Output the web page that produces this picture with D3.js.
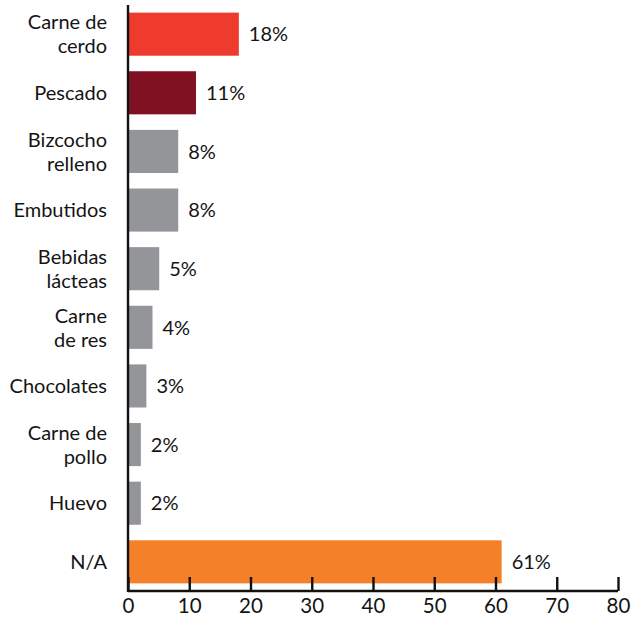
<!DOCTYPE html>
<html><head><meta charset="utf-8">
<script src="https://cdn.jsdelivr.net/npm/d3@7"></script>
<style>
html,body{margin:0;padding:0;background:#fff;}
text{font-family:"Lato","Open Sans",sans-serif;fill:#141414;}
</style></head>
<body><svg id="chart" width="632" height="623"></svg>
<script>
const categories = ["Carne de cerdo","Pescado","Bizcocho relleno","Embutidos","Bebidas lácteas","Carne de res","Chocolates","Carne de pollo","Huevo","N/A"];
const labelLines = [["Carne de","cerdo"],["Pescado"],["Bizcocho","relleno"],["Embutidos"],["Bebidas","lácteas"],["Carne","de res"],["Chocolates"],["Carne de","pollo"],["Huevo"],["N/A"]];
const values = [18.1, 11.1, 8.2, 8.2, 5.1, 4.0, 3.0, 2.1, 2.1, 61.0];
const valueLabels = ["18%","11%","8%","8%","5%","4%","3%","2%","2%","61%"];
const colors = ["#EF3A2E","#7F1123","#939598","#939598","#939598","#939598","#939598","#939598","#939598","#F4812A"];
const xTicks = [0,10,20,30,40,50,60,70,80];

const svg = d3.select("#chart");
const x = d3.scaleLinear().domain([0,80]).range([128,618]);
const y = d3.scaleBand().domain(categories).range([5,591]).paddingInner(0.265).paddingOuter(0.13);

svg.selectAll("rect.bar").data(categories).join("rect")
  .attr("class","bar")
  .attr("x", x(0))
  .attr("y", d => y(d))
  .attr("width", (d,i) => x(values[i]) - x(0))
  .attr("height", y.bandwidth())
  .attr("fill", (d,i) => colors[i]);

svg.selectAll("text.val").data(categories).join("text")
  .attr("class","val")
  .attr("x", (d,i) => x(values[i]) + 10)
  .attr("y", d => y(d) + y.bandwidth()/2)
  .attr("dy","0.36em")
  .attr("font-size", 20)
  .text((d,i) => valueLabels[i]);

const cat = svg.selectAll("text.cat").data(categories).join("text")
  .attr("class","cat")
  .attr("text-anchor","end")
  .attr("font-size", 20)
  .attr("y", d => y(d) + y.bandwidth()/2);
cat.each(function(d,i){
  const lines = labelLines[i];
  const n = lines.length;
  d3.select(this).selectAll("tspan").data(lines).join("tspan")
    .attr("x", 107)
    .attr("dy", (l,j) => j===0 ? ((0.36 - (n-1)*0.6) + "em") : "1.2em")
    .text(l => l);
});

// x axis
const xAxis = d3.axisBottom(x).tickValues(xTicks).tickSize(-14).tickPadding(0).tickFormat(d3.format("d"));
const gx = svg.append("g").attr("transform","translate(0,591)").call(xAxis);
gx.select(".domain").attr("stroke","#111").attr("stroke-width",2.4).attr("d","M128,0H618");
gx.selectAll(".tick line").attr("stroke","#111").attr("stroke-width",2.4);
gx.selectAll(".tick text").attr("font-size",20.5).attr("dy","1.05em").attr("fill","#141414").style("font-family","Lato, 'Open Sans', sans-serif");

// y axis line
svg.append("line").attr("x1",x(0)).attr("x2",x(0)).attr("y1",5).attr("y2",592)
  .attr("stroke","#111").attr("stroke-width",2.4);
</script></body></html>
